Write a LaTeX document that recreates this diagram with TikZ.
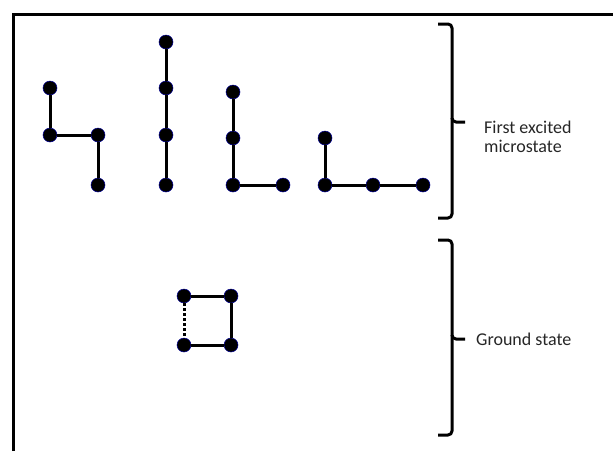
\documentclass[tikz,border=0pt]{standalone}
\usepackage{fontspec}
\setmainfont{Carlito}
\begin{document}
\begin{tikzpicture}[x=1pt,y=-1pt,
  dot/.style={circle,fill=black,draw=blue!60!black,line width=0.5pt,minimum size=14pt,inner sep=0pt},
  bond/.style={line width=3pt,black},
  brk/.style={line width=3pt,black,line join=round},
  lbl/.style={font=\fontsize{18}{19}\selectfont,text=black!85,align=left,anchor=west,inner sep=0pt}]
\useasboundingbox (0,0) rectangle (613,451);
\draw[line width=3pt] (13,451) -- (13,14) -- (613,14);
% shape 1
\node[dot] (a1) at (50,88) {};
\node[dot] (a2) at (50,135) {};
\node[dot] (a3) at (98,135) {};
\node[dot] (a4) at (98,185) {};
% shape 2
\node[dot] (b1) at (166,42) {};
\node[dot] (b2) at (166,88) {};
\node[dot] (b3) at (166,135) {};
\node[dot] (b4) at (166,185) {};
% shape 3
\node[dot] (c1) at (233,92) {};
\node[dot] (c2) at (233,138) {};
\node[dot] (c3) at (233,185) {};
\node[dot] (c4) at (283,185) {};
% shape 4
\node[dot] (d1) at (325,138) {};
\node[dot] (d2) at (325,185) {};
\node[dot] (d3) at (373,185) {};
\node[dot] (d4) at (423,185) {};
% square
\node[dot] (s1) at (184,296) {};
\node[dot] (s2) at (231,296) {};
\node[dot] (s3) at (184,345) {};
\node[dot] (s4) at (231,345) {};
\draw[bond] (a1) -- (a2) -- (a3) -- (a4);
\draw[bond] (b1) -- (b2) -- (b3) -- (b4);
\draw[bond] (c1) -- (c2) -- (c3) -- (c4);
\draw[bond] (d1) -- (d2) -- (d3) -- (d4);
\draw[bond] (s3) -- (s4) -- (s2) -- (s1);
\draw[line width=3pt,dash pattern=on 2.5pt off 2.5pt] (s1) -- (s3);
% brackets
\coordinate (t1) at (438,24);
\coordinate (t2) at (438,218);
\coordinate (m1) at (465,122);
\draw[brk] (t1) -- (448,24) to[out=0,in=90] (452,28) -- (452,118) to[out=270,in=180] (456,122) -- (m1);
\draw[brk] (452,118) -- (452,126) -- (452,214) to[out=270,in=0] (448,218) -- (t2);
\coordinate (g1) at (438,240);
\coordinate (g2) at (438,435);
\coordinate (m2) at (465,339);
\draw[brk] (g1) -- (448,240) to[out=0,in=90] (452,244) -- (452,335) to[out=270,in=180] (456,339) -- (m2);
\draw[brk] (452,335) -- (452,431) to[out=270,in=0] (448,435) -- (g2);
\node[lbl] (L1) at (484,137) {First excited\\microstate};
\node[lbl] (L2) at (476,339) {Ground state};
\end{tikzpicture}
\end{document}
